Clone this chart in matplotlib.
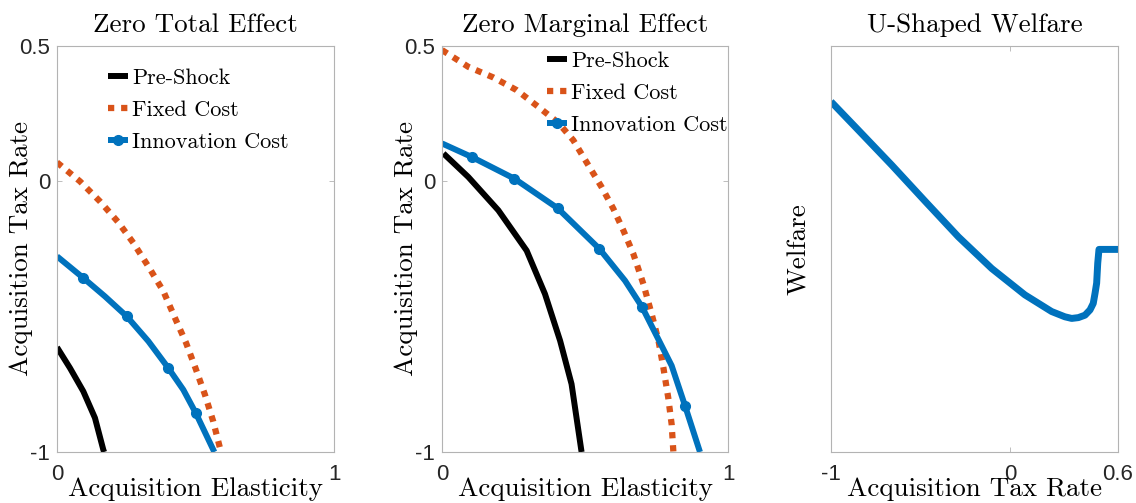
import matplotlib
matplotlib.use("Agg")
import matplotlib.pyplot as plt

# ---------------- data ----------------
# Panel 1: Zero Total Effect
p1_pre_x = [0.0, 0.047, 0.095, 0.137, 0.167, 0.170]
p1_pre_y = [-0.613, -0.69, -0.776, -0.874, -0.991, -1.0]
p1_fix_x = [0.0, 0.083, 0.155, 0.221, 0.276, 0.332, 0.384, 0.426, 0.466, 0.501, 0.534, 0.564, 0.592]
p1_fix_y = [0.07, 0.0, -0.074, -0.151, -0.228, -0.318, -0.406, -0.505, -0.597, -0.693, -0.788, -0.887, -1.0]
p1_inn_x = [0.0, 0.095, 0.173, 0.252, 0.33, 0.402, 0.456, 0.501, 0.568]
p1_inn_y = [-0.277, -0.357, -0.425, -0.499, -0.591, -0.69, -0.77, -0.856, -1.0]
p1_inn_marks = [1, 3, 5, 7]

# Panel 2: Zero Marginal Effect
p2_pre_x = [0.005, 0.092, 0.197, 0.296, 0.36, 0.413, 0.453, 0.488]
p2_pre_y = [0.103, 0.016, -0.107, -0.256, -0.416, -0.589, -0.749, -1.0]
p2_fix_x = [0.0, 0.092, 0.179, 0.261, 0.337, 0.407, 0.459, 0.512, 0.558, 0.599,
            0.634, 0.669, 0.704, 0.733, 0.757, 0.774, 0.791, 0.803, 0.809]
p2_fix_y = [0.485, 0.423, 0.384, 0.337, 0.275, 0.216, 0.152, 0.059, -0.021, -0.101,
            -0.181, -0.268, -0.379, -0.49, -0.589, -0.688, -0.799, -0.898, -1.0]
p2_inn_x = [0.0, 0.104, 0.253, 0.404, 0.55, 0.64, 0.70, 0.803, 0.85, 0.902]
p2_inn_y = [0.14, 0.09, 0.01, -0.099, -0.249, -0.367, -0.465, -0.681, -0.83, -1.0]
p2_inn_marks = [1, 2, 3, 4, 6, 8]

# Panel 3: U-Shaped Welfare (arbitrary welfare units)
p3_x = [-1.0, -0.848, -0.662, -0.476, -0.290, -0.104, 0.081, 0.230, 0.304, 0.342,
        0.379, 0.416, 0.444, 0.462, 0.472, 0.481, 0.487, 0.494, 0.60]
p3_y = [0.863, 0.793, 0.707, 0.618, 0.530, 0.452, 0.387, 0.346, 0.333, 0.329,
        0.331, 0.337, 0.35, 0.366, 0.391, 0.416, 0.465, 0.499, 0.499]

titles = ["Zero Total Effect", "Zero Marginal Effect", "U-Shaped Welfare"]
xlabels = ["Acquisition Elasticity", "Acquisition Elasticity", "Acquisition Tax Rate"]
ylabels = ["Acquisition Tax Rate", "Acquisition Tax Rate", "Welfare"]
legend_labels = ["Pre-Shock", "Fixed Cost", "Innovation Cost"]

# ---------------- style ----------------
BLUE = "#0072BD"
ORANGE = "#D95319"
BLACK = "#000000"
SERIF = "cmr10"
SANS = "Liberation Sans"

fig = plt.figure(figsize=(11.36, 5.03), dpi=100)
positions = [
    [57 / 1136, 51 / 503, 277 / 1136, 406 / 503],
    [442 / 1136, 51 / 503, 286 / 1136, 406 / 503],
    [831 / 1136, 51 / 503, 287 / 1136, 406 / 503],
]
axes = [fig.add_axes(p) for p in positions]

dot_style = (0, (1, 1.1))


def style_axes(ax, i):
    for s in ax.spines.values():
        s.set_color("#b3b3b3")
        s.set_linewidth(0.8)
    ax.tick_params(direction="in", length=3.5, width=0.6, color="#b3b3b3",
                   top=True, right=True, labelsize=16, labelcolor="#262626")
    ax.tick_params(axis="y", pad=5)
    ax.tick_params(axis="x", pad=9)
    for lab in ax.get_xticklabels() + ax.get_yticklabels():
        lab.set_fontfamily(SANS)
    ax.set_title(titles[i], fontfamily=SERIF, fontsize=19.5, pad=10)
    ax.set_xlabel(xlabels[i], fontfamily=SERIF, fontsize=19.5)
    ax.set_ylabel(ylabels[i], fontfamily=SERIF, fontsize=19.5)
    ax.xaxis.set_label_coords(0.5, -0.062)


# Panel 1 & 2
panels = [
    (p1_pre_x, p1_pre_y, p1_fix_x, p1_fix_y, p1_inn_x, p1_inn_y, p1_inn_marks, (0.184, 0.945), -0.087),
    (p2_pre_x, p2_pre_y, p2_fix_x, p2_fix_y, p2_inn_x, p2_inn_y, p2_inn_marks, (0.367, 0.987), -0.084),
]
for i, (px, py, fx, fy, ix, iy, marks, lpos, ylx) in enumerate(panels):
    ax = axes[i]
    ax.plot(px, py, color=BLACK, lw=4.3, solid_capstyle="butt", solid_joinstyle="round",
            label=legend_labels[0])
    ax.plot(fx, fy, color=ORANGE, lw=4.5, linestyle=dot_style, dash_capstyle="butt",
            label=legend_labels[1])
    ax.plot(ix, iy, color=BLUE, lw=4.3, marker="o", markersize=7, markevery=marks,
            markerfacecolor=BLUE, markeredgecolor=BLUE, solid_capstyle="butt",
            solid_joinstyle="round", label=legend_labels[2])
    ax.set_xlim(0, 1)
    ax.set_ylim(-1, 0.5)
    ax.set_xticks([0, 1])
    ax.set_xticklabels(["0", "1"])
    ax.set_yticks([-1, 0, 0.5])
    ax.set_yticklabels(["-1", "0", "0.5"])
    style_axes(ax, i)
    ax.yaxis.set_label_coords(ylx, 0.5)
    ax.legend(loc="upper left", bbox_to_anchor=lpos, frameon=False,
              prop={"family": SERIF, "size": 16}, handlelength=0.9,
              handletextpad=0.2, borderpad=0, borderaxespad=0,
              labelspacing=0.56, numpoints=1)

# Panel 3
ax = axes[2]
ax.plot(p3_x, p3_y, color=BLUE, lw=5.0, solid_capstyle="butt", solid_joinstyle="round")
ax.set_xlim(-1, 0.6)
ax.set_ylim(0, 1)
ax.set_xticks([-1, 0, 0.6])
ax.set_xticklabels(["-1", "0", "0.6"])
ax.set_yticks([])
style_axes(ax, 2)
ax.yaxis.set_label_coords(-0.07, 0.5)

fig.savefig("out.png", dpi=100)
